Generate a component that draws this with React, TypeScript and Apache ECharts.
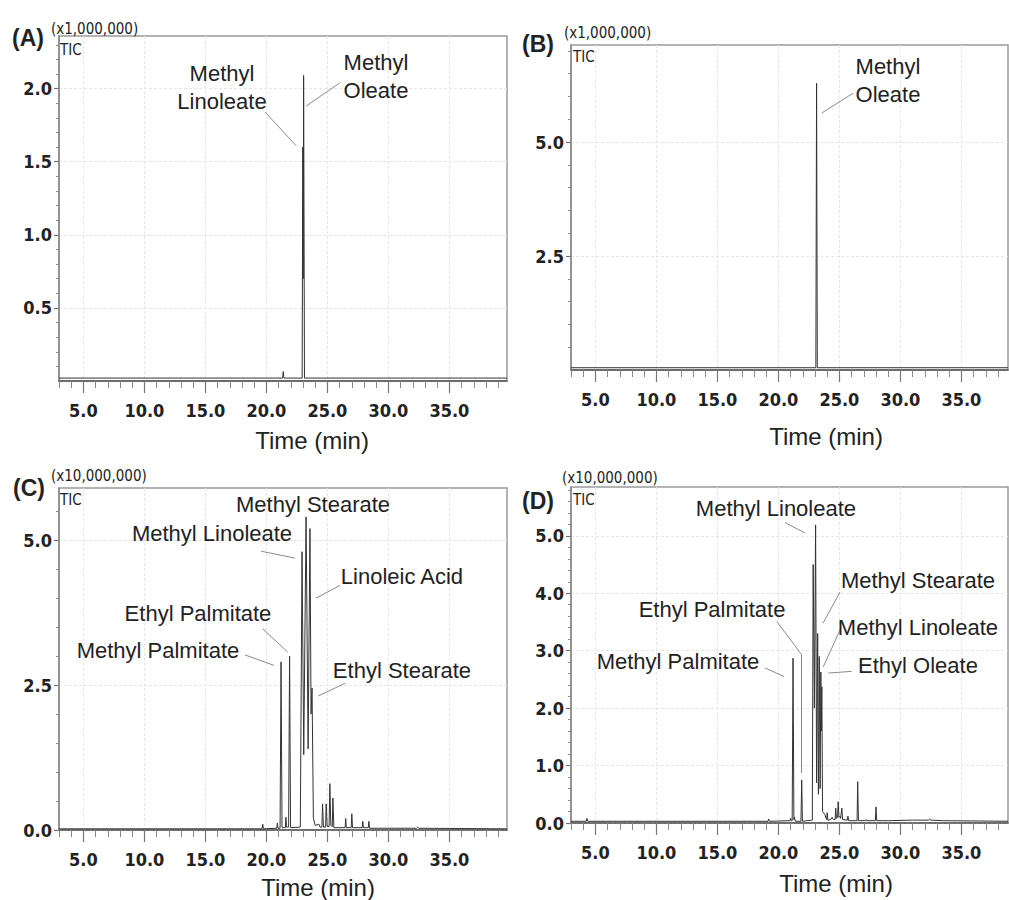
import React, { useEffect, useRef } from "react";
import * as echarts from "echarts";

// ---------- data ----------
const timeMajorTicks = [5, 10, 15, 20, 25, 30, 35];
const timeMinorTicks = [3, 4, 6, 7, 8, 9, 11, 12, 13, 14, 16, 17, 18, 19, 21, 22, 23, 24, 26, 27, 28, 29, 31, 32, 33, 34, 36, 37, 38, 39];

const yTicksA = [0.5, 1.0, 1.5, 2.0];
const yTicksB = [2.5, 5.0];
const yTicksC = [0.0, 2.5, 5.0];
const yTicksD = [0.0, 1.0, 2.0, 3.0, 4.0, 5.0];

// (time min, intensity) — A and B in x1,000,000 ; C and D in x10,000,000
const chromA: [number, number][] = [
  [3, 0.02], [21.33, 0.02], [21.38, 0.065], [21.43, 0.02],
  [22.93, 0.02], [22.98, 1.6], [23.02, 0.7], [23.05, 2.09], [23.12, 0.02],
  [39.72, 0.02],
];

const chromB: [number, number][] = [
  [3, 0.05], [23.07, 0.05], [23.13, 6.29], [23.19, 0.05], [38.82, 0.05],
];

const chromC: [number, number][] = [
  [3, 0.02], [19.64, 0.02], [19.7, 0.1], [19.76, 0.02],
  [20.85, 0.03], [20.9, 0.12], [20.95, 0.03],
  [21.12, 0.03], [21.2, 2.9], [21.28, 0.04],
  [21.55, 0.04], [21.6, 0.22], [21.65, 0.05],
  [21.82, 0.05], [21.9, 3.0], [21.98, 0.04],
  [22.78, 0.05], [22.92, 4.8], [23.06, 1.3], [23.25, 5.4], [23.42, 1.4], [23.57, 5.2], [23.66, 2.0], [23.74, 2.45], [23.85, 0.2],
  [24.0, 0.08], [24.3, 0.1], [24.4, 0.05],
  [24.55, 0.05], [24.6, 0.45], [24.68, 0.05], [24.85, 0.05], [24.9, 0.45], [24.98, 0.06],
  [25.14, 0.06], [25.2, 0.8], [25.28, 0.08], [25.4, 0.06], [25.45, 0.55], [25.53, 0.04],
  [26.45, 0.04], [26.5, 0.2], [26.55, 0.04], [26.95, 0.04], [27.0, 0.28], [27.06, 0.04],
  [27.85, 0.04], [27.9, 0.15], [27.95, 0.04], [28.35, 0.04], [28.4, 0.15], [28.45, 0.03],
  [32.3, 0.03], [32.4, 0.05], [32.5, 0.03], [39.72, 0.02],
];

const chromD: [number, number][] = [
  [3, 0.03], [4.25, 0.03], [4.3, 0.08], [4.36, 0.03],
  [19.15, 0.03], [19.2, 0.07], [19.26, 0.03],
  [20.95, 0.04], [21.0, 0.08], [21.06, 0.04],
  [21.13, 0.04], [21.2, 2.87], [21.27, 0.06], [21.33, 0.1], [21.38, 0.03],
  [21.85, 0.03], [21.91, 0.75], [21.97, 0.03],
  [22.78, 0.05], [22.85, 4.5], [22.95, 2.0], [23.05, 5.19], [23.13, 0.7], [23.22, 3.3], [23.28, 0.5],
  [23.35, 2.9], [23.42, 0.6], [23.48, 2.63], [23.52, 1.6], [23.56, 2.37], [23.62, 0.2],
  [23.8, 0.15], [23.95, 0.06], [24.0, 0.18], [24.06, 0.05],
  [24.3, 0.06], [24.4, 0.1], [24.5, 0.06], [24.65, 0.06], [24.7, 0.26], [24.76, 0.08],
  [24.85, 0.1], [24.9, 0.37], [24.96, 0.1], [25.05, 0.12], [25.1, 0.08], [25.15, 0.08], [25.2, 0.26], [25.26, 0.06],
  [25.65, 0.05], [25.7, 0.12], [25.76, 0.04],
  [26.45, 0.04], [26.5, 0.72], [26.56, 0.04],
  [27.15, 0.04], [27.2, 0.06], [27.25, 0.04],
  [27.95, 0.04], [28.0, 0.28], [28.06, 0.04],
  [29.0, 0.04], [31.0, 0.05], [32.3, 0.05], [32.4, 0.07], [32.5, 0.05], [33.5, 0.04], [38.82, 0.03],
];

// ---------- annotations (data coordinates) ----------
type Note = { text: string; at: [number, number]; leader?: [number, number][] };

const notesA: Note[] = [
  { text: "Methyl\nLinoleate", at: [16.36, 2.01], leader: [[19.89, 1.84], [22.43, 1.61]] },
  { text: "Methyl\nOleate", at: [28.98, 2.08], leader: [[26.03, 2.04], [23.25, 1.88]] },
];
const notesB: Note[] = [
  { text: "Methyl\nOleate", at: [28.98, 6.36], leader: [[26.11, 6.07], [23.57, 5.64]] },
];
const notesC: Note[] = [
  { text: "Methyl Stearate", at: [23.82, 5.62] },
  { text: "Methyl Linoleate", at: [15.54, 5.12], leader: [[19.56, 4.81], [22.34, 4.69]] },
  { text: "Linoleic Acid", at: [31.11, 4.38], leader: [[26.03, 4.22], [24.07, 4.0]] },
  { text: "Ethyl Palmitate", at: [14.39, 3.74], leader: [[19.7, 3.47], [21.75, 3.07]] },
  { text: "Methyl Palmitate", at: [11.11, 3.09], leader: [[18.25, 3.02], [20.62, 2.84]] },
  { text: "Ethyl Stearate", at: [31.11, 2.76], leader: [[26.44, 2.53], [24.23, 2.31]] },
];
const notesD: Note[] = [
  { text: "Methyl Linoleate", at: [19.8, 5.47], leader: [[20.54, 5.23], [22.18, 5.05]] },
  { text: "Methyl Stearate", at: [31.44, 4.23], leader: [[25.05, 4.02], [23.66, 3.48]] },
  { text: "Ethyl Palmitate", at: [14.56, 3.71], leader: [[19.86, 3.51], [21.91, 2.93], [21.91, 0.87]] },
  { text: "Methyl Linoleate", at: [31.44, 3.4], leader: [[25.05, 3.36], [23.68, 2.72]] },
  { text: "Ethyl Oleate", at: [31.44, 2.75], leader: [[26.0, 2.64], [24.09, 2.61]] },
  { text: "Methyl Palmitate", at: [11.77, 2.82], leader: [[18.9, 2.7], [20.46, 2.55]] },
];

// ---------- layout / style ----------
const NARROW = "'Liberation Sans Narrow', 'DejaVu Sans Condensed', 'Arial Narrow', sans-serif";
const SANS = "'Liberation Sans', Arial, 'Helvetica', sans-serif";
const INK = "#222";

function minorSteps(step: number, maxV: number, majors: number[]) {
  const out: number[] = [];
  for (let i = 1; i * step <= maxV + 1e-9; i++) {
    const v = Math.round(i * step * 1000) / 1000;
    if (!majors.some((m) => Math.abs(m - v) < 1e-6)) out.push(v);
  }
  return out;
}

const panels = [
  {
    tag: "(A)", unit: "(x1,000,000)", data: chromA, notes: notesA,
    grid: { left: 59, top: 36, width: 448, height: 345 }, xMax: 39.72, yMax: 2.36, yInt: 0.5,
    yTicks: yTicksA, yMinor: minorSteps(0.1, 2.3, yTicksA), nameGap: 47, namePad: 58,
    tagPos: [12, 38], unitPos: [51, 29], ticPos: [60, 50],
  },
  {
    tag: "(B)", unit: "(x1,000,000)", data: chromB, notes: notesB,
    grid: { left: 571, top: 45, width: 437, height: 325 }, xMax: 38.82, yMax: 7.13, yInt: 2.5,
    yTicks: yTicksB, yMinor: minorSteps(0.5, 7.0, yTicksB), nameGap: 54, namePad: 73,
    tagPos: [522, 44], unitPos: [564, 33], ticPos: [573, 57],
  },
  {
    tag: "(C)", unit: "(x10,000,000)", data: chromC, notes: notesC,
    grid: { left: 59, top: 488, width: 448, height: 342 }, xMax: 39.72, yMax: 5.9, yInt: 2.5,
    yTicks: yTicksC, yMinor: minorSteps(0.5, 5.5, yTicksC), nameGap: 45, namePad: 70,
    tagPos: [13, 488], unitPos: [51, 476], ticPos: [60, 500],
  },
  {
    tag: "(D)", unit: "(x10,000,000)", data: chromD, notes: notesD,
    grid: { left: 571, top: 487, width: 437, height: 336 }, xMax: 38.82, yMax: 5.85, yInt: 1.0,
    yTicks: yTicksD, yMinor: minorSteps(0.2, 5.8, yTicksD), nameGap: 48, namePad: 93,
    tagPos: [522, 501], unitPos: [562, 478], ticPos: [573, 500],
  },
];

function buildOption() {
  const grid: any[] = [];
  const xAxis: any[] = [];
  const yAxis: any[] = [];
  const series: any[] = [];
  const graphic: any[] = [];
  const n = panels.length;

  const tickFont = { fontFamily: NARROW, fontWeight: "bold", fontSize: 18, color: INK };
  const split = { show: true, lineStyle: { color: "#e6e6e6", type: [3, 2], width: 1 } };

  panels.forEach((p, i) => {
    grid.push({ ...p.grid, show: true, borderColor: "#9a9a9a", borderWidth: 1.5, backgroundColor: "transparent" });

    xAxis[i] = {
      type: "value", gridIndex: i, min: 3, max: p.xMax, splitNumber: 7,
      axisLine: { show: true, onZero: false, lineStyle: { color: "#555", width: 1.5 } },
      axisTick: { show: true, customValues: timeMajorTicks, length: 12, lineStyle: { color: "#777", width: 1.2 } },
      axisLabel: { show: true, customValues: timeMajorTicks, margin: 20, formatter: (v: number) => v.toFixed(1), ...tickFont },
      splitLine: split,
      name: "Time (min)", nameLocation: "middle", nameGap: p.nameGap,
      nameTextStyle: { fontFamily: SANS, fontSize: 24, color: INK, padding: [0, 0, 0, p.namePad] },
    };
    xAxis[n + i] = {
      type: "value", gridIndex: i, min: 3, max: p.xMax, position: "bottom",
      axisLine: { show: false, onZero: false },
      axisTick: { show: true, customValues: timeMinorTicks, length: 7, lineStyle: { color: "#888", width: 1 } },
      axisLabel: { show: false }, splitLine: { show: false },
    };
    yAxis[i] = {
      type: "value", gridIndex: i, min: 0, max: p.yMax, interval: p.yInt,
      axisLine: { show: true, onZero: false, lineStyle: { color: "#8a8a8a", width: 1.5 } },
      axisTick: { show: true, customValues: p.yTicks, length: 5, lineStyle: { color: "#777", width: 1.2 } },
      axisLabel: { show: true, customValues: p.yTicks, margin: 7, formatter: (v: number) => v.toFixed(1), ...tickFont },
      splitLine: split,
    };
    yAxis[n + i] = {
      type: "value", gridIndex: i, min: 0, max: p.yMax, interval: p.yInt, position: "left",
      axisLine: { show: false, onZero: false },
      axisTick: { show: true, customValues: p.yMinor, length: 3, lineStyle: { color: "#888", width: 1 } },
      axisLabel: { show: false }, splitLine: { show: false },
    };

    const leaderSegs: any[] = [];
    p.notes.forEach((nt) => {
      if (!nt.leader) return;
      for (let k = 1; k < nt.leader.length; k++) {
        leaderSegs.push([{ coord: nt.leader[k - 1] }, { coord: nt.leader[k] }]);
      }
    });

    series.push({
      type: "line", name: "TIC " + p.tag, xAxisIndex: i, yAxisIndex: i,
      data: p.data, showSymbol: false, symbol: "none", silent: true,
      lineStyle: { color: "#333", width: 1 },
      markLine: {
        silent: true, symbol: ["none", "none"], animation: false,
        label: { show: false },
        lineStyle: { color: "#8a8a8a", width: 1, type: "solid" },
        emphasis: { disabled: true },
        data: leaderSegs,
      },
      markPoint: {
        silent: true, symbol: "rect", symbolSize: 1, animation: false,
        itemStyle: { color: "rgba(0,0,0,0)" },
        label: {
          show: true, position: "inside", color: INK, fontFamily: SANS, fontSize: 22,
          lineHeight: 28, align: "center", verticalAlign: "middle",
        },
        data: p.notes.map((nt) => ({ coord: nt.at, value: 0, label: { formatter: nt.text } })),
      },
    });

    graphic.push(
      { type: "text", x: p.tagPos[0], y: p.tagPos[1], style: { text: p.tag, fill: INK, font: `bold 23px ${SANS}`, verticalAlign: "middle" } },
      { type: "text", x: p.unitPos[0], y: p.unitPos[1], style: { text: p.unit, fill: INK, font: `15px ${NARROW}`, verticalAlign: "middle" } },
      { type: "text", x: p.ticPos[0], y: p.ticPos[1], style: { text: "TIC", fill: INK, font: `15px ${NARROW}`, verticalAlign: "middle" } },
    );
  });

  return {
    animation: false,
    backgroundColor: "#fff",
    grid, xAxis, yAxis, series, graphic,
  };
}

export default function App() {
  const ref = useRef<HTMLDivElement>(null);
  useEffect(() => {
    if (!ref.current) return;
    const chart = echarts.init(ref.current, null, { renderer: "svg" });
    chart.setOption(buildOption() as any);
    return () => chart.dispose();
  }, []);
  return (
    <div
      ref={ref}
      style={{ position: "fixed", left: 0, top: 0, width: 1009, height: 900, background: "#fff" }}
    />
  );
}
